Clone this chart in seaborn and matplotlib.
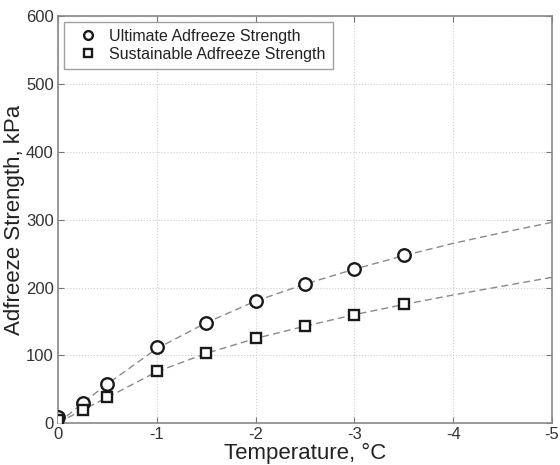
import numpy as np
import pandas as pd
import matplotlib; matplotlib.use("Agg")
import matplotlib.pyplot as plt
import seaborn as sns

sns.set_style("ticks")
plt.rcParams["font.family"] = ["Liberation Sans", "DejaVu Sans"]

# measured points
temps = [0, -0.25, -0.5, -1, -1.5, -2, -2.5, -3, -3.5]
ultimate = [9, 30, 58, 112, 148, 180, 205, 228, 248]
sustainable = [5, 20, 38, 77, 103, 125, 143, 160, 175]

# dashed trend lines
fit_temps = [0, -0.25, -0.5, -1, -1.5, -2, -2.5, -3, -3.5, -4, -4.5, -5]
ultimate_fit = [0, 30, 58, 110, 148, 180, 205, 227, 247, 265, 281, 296]
sustainable_fit = [0, 20, 38, 76, 103, 125, 143, 160, 175, 189, 202, 215]

x_ticks = [0, -1, -2, -3, -4, -5]
y_ticks = [0, 100, 200, 300, 400, 500, 600]

pts = pd.DataFrame({"T": temps, "ult": ultimate, "sus": sustainable})
fit = pd.DataFrame({"T": fit_temps, "ult": ultimate_fit, "sus": sustainable_fit})

fig = plt.figure(figsize=(5.6, 4.65), dpi=100)
ax = fig.add_axes([0.1036, 0.0897, 0.882, 0.876])

for col in ["ult", "sus"]:
    sns.lineplot(data=fit, x="T", y=col, color="#8a8a8a", linewidth=1.0,
                 linestyle=(0, (5, 3)), ax=ax, zorder=2)

ax.plot(pts["T"], pts["ult"], linestyle="none", marker="o", markersize=9,
        markerfacecolor="white", markeredgecolor="#1a1a1a", markeredgewidth=1.7,
        label="Ultimate Adfreeze Strength", zorder=3)
ax.plot(pts["T"], pts["sus"], linestyle="none", marker="s", markersize=7.5,
        markerfacecolor="white", markeredgecolor="#1a1a1a", markeredgewidth=1.7,
        label="Sustainable Adfreeze Strength", zorder=3)

ax.set_xlim(0, -5)
ax.set_ylim(0, 600)
ax.set_xticks(x_ticks)
ax.set_xticklabels([str(t) for t in x_ticks])
ax.set_yticks(y_ticks)
ax.grid(True, color="#cfcfcf", linestyle=":", linewidth=0.8)
ax.tick_params(direction="in", length=4, color="#777777", labelsize=12,
               labelcolor="#333333", top=True, right=True, pad=3)
for s in ax.spines.values():
    s.set_color("#888888")
    s.set_linewidth(1.2)

ax.set_xlabel("Temperature, °C", fontsize=16, color="#222222", labelpad=0)
ax.set_ylabel("Adfreeze Strength, kPa", fontsize=16, color="#222222", labelpad=1)

leg = ax.legend(loc="upper left", fontsize=11.5, frameon=True, fancybox=False,
                edgecolor="#888888", borderaxespad=0.35, handletextpad=0.3,
                borderpad=0.45, labelspacing=0.2, markerscale=0.7,
                handlelength=2.1)
leg.get_frame().set_linewidth(1.0)
for t in leg.get_texts():
    t.set_color("#222222")

sns.despine(top=False, right=False)
plt.savefig("out.png", dpi=100)
plt.close()
